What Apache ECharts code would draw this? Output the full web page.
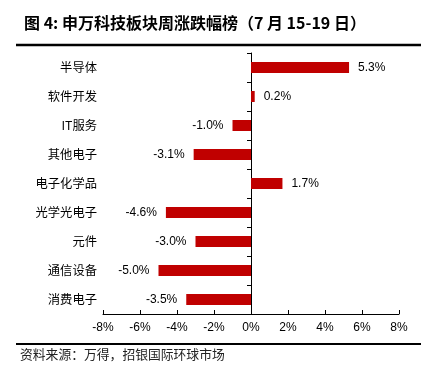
<!DOCTYPE html>
<html><head><meta charset="utf-8">
<script src="https://cdn.jsdelivr.net/npm/echarts@6/dist/echarts.min.js"></script>
<style>html,body{margin:0;padding:0;background:#fff;}#c{width:433px;height:388px;}</style>
</head><body><div id="c"></div>
<script>
const categories = ['半导体','软件开发','IT服务','其他电子','电子化学品','光学光电子','元件','通信设备','消费电子'];
const values = [5.3, 0.2, -1.0, -3.1, 1.7, -4.6, -3.0, -5.0, -3.5];
const xTicks = [-8, -6, -4, -2, 0, 2, 4, 6, 8];
const titleText = '图 4: 申万科技板块周涨跌幅榜（7 月 15-19 日）';
const sourceText = '资料来源：万得，招银国际环球市场';

const chart = echarts.init(document.getElementById('c'));
const cjk = '"Noto Sans CJK SC", sans-serif';
const latin = '"Liberation Sans", Arial, sans-serif';
chart.setOption({
  animation: false,
  backgroundColor: '#fff',
  title: {
    text: titleText, left: 19, top: 10,
    textStyle: { fontSize: 16, fontWeight: 'bold', color: '#000', fontFamily: cjk }
  },
  graphic: [
    { type: 'line', shape: { x1: 16, y1: 45, x2: 421, y2: 45 }, style: { stroke: '#000', lineWidth: 2.5 } },
    { type: 'line', shape: { x1: 16, y1: 344, x2: 421, y2: 344 }, style: { stroke: '#000', lineWidth: 2 } },
    { type: 'text', left: 20, top: 348, style: { text: sourceText, fontSize: 12.8, fill: '#222', fontFamily: cjk } }
  ],
  grid: { left: 103, right: 34, top: 53, bottom: 74 },
  xAxis: {
    type: 'value', min: xTicks[0], max: xTicks[xTicks.length - 1], interval: 2,
    axisLine: { show: true, onZero: false, lineStyle: { color: '#000', width: 1 } },
    axisTick: { show: true, inside: true, length: 4, lineStyle: { color: '#000' } },
    splitLine: { show: false },
    axisLabel: { formatter: v => v + '%', color: '#000', fontSize: 12, fontFamily: latin, margin: 8 }
  },
  yAxis: [
    {
      type: 'category', data: categories, inverse: true, position: 'left',
      axisLine: { show: false, onZero: false }, axisTick: { show: false },
      axisLabel: { color: '#000', fontSize: 12.3, fontFamily: cjk, margin: 6 }
    },
    {
      type: 'category', data: categories, inverse: true, position: 'left',
      axisLine: { show: true, onZero: true, onZeroAxisIndex: 0, lineStyle: { color: '#000', width: 1 } },
      axisTick: { show: true, inside: false, length: 4, lineStyle: { color: '#000' } },
      axisLabel: { show: false }
    }
  ],
  series: [{
    type: 'bar', yAxisIndex: 0, barWidth: 11,
    data: values.map(v => v < 0 ? { value: v, label: { position: 'left' } } : v),
    itemStyle: { color: '#C00000' },
    label: {
      show: true, formatter: p => p.value.toFixed(1) + '%',
      position: 'right', distance: 9, color: '#000', fontSize: 12, fontFamily: latin
    }
  }]
});
</script></body></html>
